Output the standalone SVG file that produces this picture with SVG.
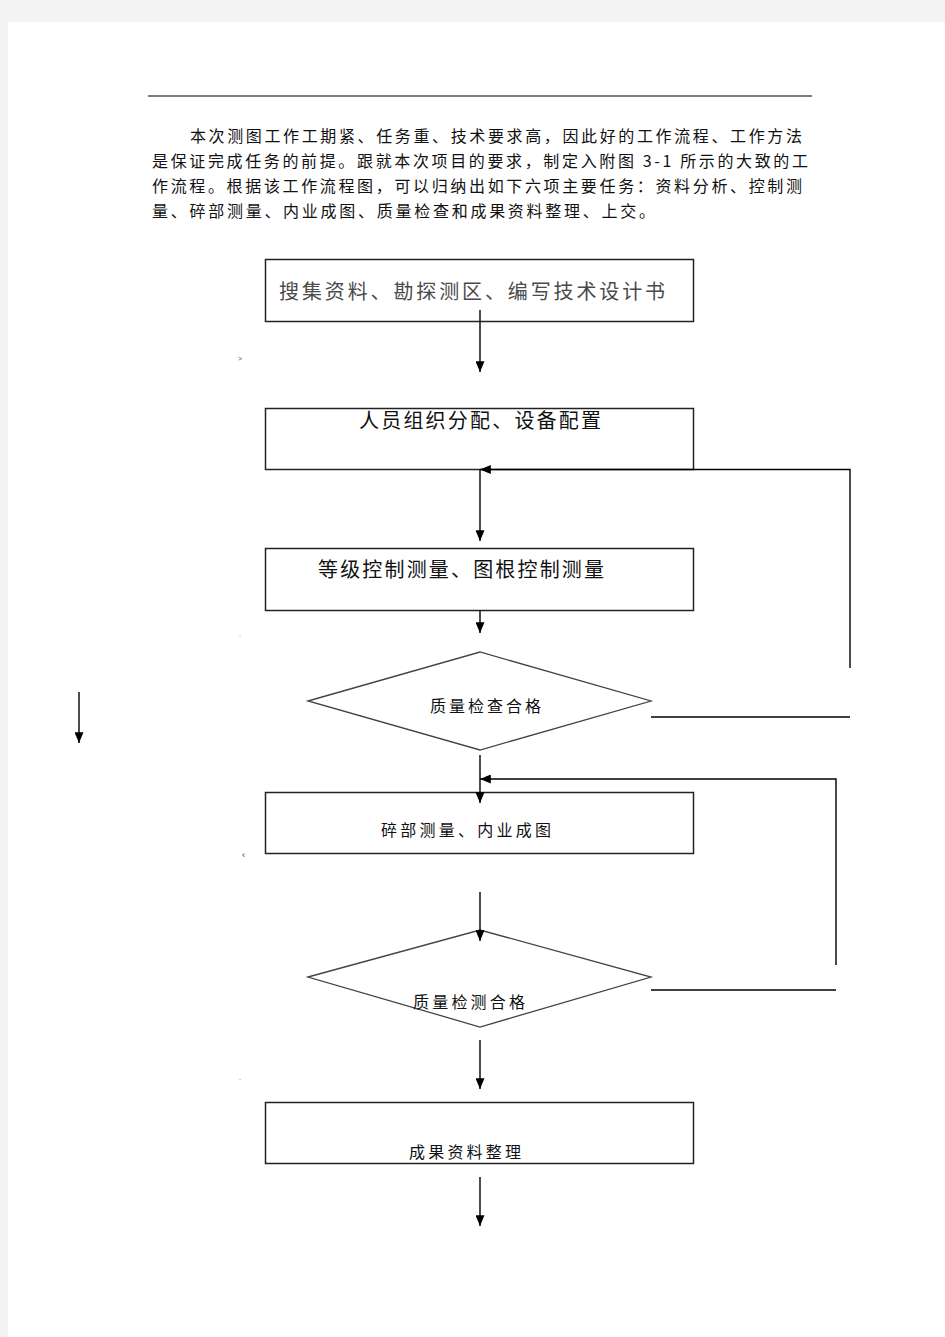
<svg xmlns="http://www.w3.org/2000/svg" width="945" height="1337" viewBox="0 0 945 1337">
<defs>
<marker id="ah" viewBox="0 0 12 10" refX="12" refY="5" markerWidth="11" markerHeight="9" markerUnits="userSpaceOnUse" orient="auto">
<path d="M0,0 L12,5 L0,10 z" fill="#000"/>
</marker>
<style>
.para{font-family:"Noto Sans CJK SC","Liberation Serif",serif;font-size:16px;fill:#111}
.box{fill:#fff;stroke:#222;stroke-width:1.5}
.dia{fill:#fff;stroke:#444;stroke-width:1.3}
.lbl{font-family:"Noto Sans CJK SC","Liberation Sans",sans-serif;fill:#111}
.ln{stroke:#000;stroke-width:1.4;fill:none}
.arr{stroke:#000;stroke-width:1.4;fill:none;marker-end:url(#ah)}
.mk{font-family:"Liberation Sans",sans-serif;font-size:7px;fill:#555}
</style>
</defs>
<rect x="0" y="0" width="945" height="1337" fill="#f3f3f3"/>
<rect x="8" y="22" width="937" height="1315" fill="#fff"/>
<line x1="148" y1="96" x2="812" y2="96" stroke="#000" stroke-width="1.2"/>
<g id="paragraph">
<text class="para" x="190" y="142" textLength="612" lengthAdjust="spacing">本次测图工作工期紧、任务重、技术要求高，因此好的工作流程、工作方法</text>
<text class="para" x="152" y="167" textLength="656" lengthAdjust="spacing">是保证完成任务的前提。跟就本次项目的要求，制定入附图 3-1 所示的大致的工</text>
<text class="para" x="152" y="192" textLength="650" lengthAdjust="spacing">作流程。根据该工作流程图，可以归纳出如下六项主要任务：资料分析、控制测</text>
<text class="para" x="152" y="217" textLength="503" lengthAdjust="spacing">量、碎部测量、内业成图、质量检查和成果资料整理、上交。</text>
</g>
<g id="n1">
<rect class="box" x="265.5" y="259.5" width="428" height="62"/>
<text class="lbl" x="279" y="299" font-size="20" style="fill:#4a4a4a" textLength="386" lengthAdjust="spacing">搜集资料、勘探测区、编写技术设计书</text>
</g>
<g id="n2">
<rect class="box" x="265.5" y="408.5" width="428" height="61"/>
<text class="lbl" x="359" y="428" font-size="20" textLength="242" lengthAdjust="spacing">人员组织分配、设备配置</text>
</g>
<g id="n3">
<rect class="box" x="265.5" y="548.5" width="428" height="62"/>
<text class="lbl" x="318" y="577" font-size="20" textLength="286" lengthAdjust="spacing">等级控制测量、图根控制测量</text>
</g>
<g id="d1">
<polygon class="dia" points="308,701 480,652 651,701 480,750"/>
<text class="lbl" x="430" y="712" font-size="16" textLength="111" lengthAdjust="spacing">质量检查合格</text>
</g>
<g id="n4">
<rect class="box" x="265.5" y="792.5" width="428" height="61"/>
<text class="lbl" x="381" y="836" font-size="16" textLength="170" lengthAdjust="spacing">碎部测量、内业成图</text>
</g>
<g id="d2">
<polygon class="dia" points="308,977 480,930 651,977 480,1027"/>
<text class="lbl" x="413" y="1008" font-size="16" textLength="112" lengthAdjust="spacing">质量检测合格</text>
</g>
<g id="n5">
<rect class="box" x="265.5" y="1102.5" width="428" height="61"/>
<text class="lbl" x="409" y="1158" font-size="16" textLength="112" lengthAdjust="spacing">成果资料整理</text>
</g>
<g id="connectors">
<line class="arr" x1="480" y1="310" x2="480" y2="372"/>
<line class="arr" x1="480" y1="470" x2="480" y2="541"/>
<polyline class="arr" points="850,668 850,469.5 480,469.5"/>
<line class="ln" x1="651" y1="717" x2="850" y2="717"/>
<line class="arr" x1="480" y1="611" x2="480" y2="633"/>
<line class="arr" x1="79" y1="692" x2="79" y2="743"/>
<line class="arr" x1="480" y1="755" x2="480" y2="803"/>
<polyline class="arr" points="836,965 836,779 480,779"/>
<line class="ln" x1="651" y1="990" x2="836" y2="990"/>
<line class="arr" x1="480" y1="892" x2="480" y2="941"/>
<line class="arr" x1="480" y1="1040" x2="480" y2="1089"/>
<line class="arr" x1="480" y1="1177" x2="480" y2="1226"/>
</g>
<text class="mk" x="238" y="361">&gt;</text>
<text class="mk" x="239" y="636">.</text>
<text class="mk" x="242" y="858" style="font-size:9px;fill:#222">‹</text>
<text class="mk" x="239" y="1080">.</text>
</svg>
